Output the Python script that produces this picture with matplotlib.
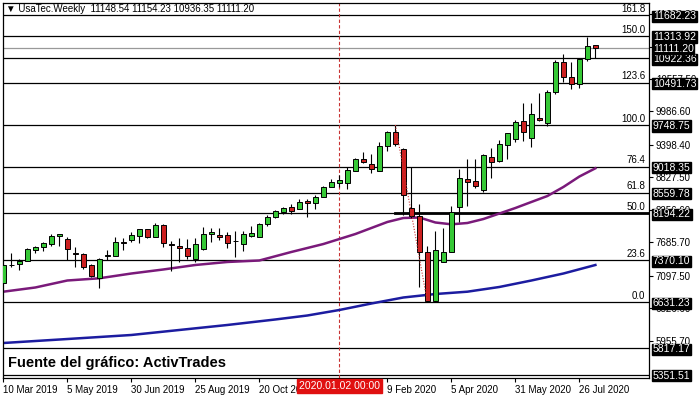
#######################################################
# imports

import numpy as np
import pandas as pd
import matplotlib
matplotlib.use('Agg')
import matplotlib.pyplot as plt
import matplotlib.transforms as mtransforms

plt.rcParams['font.family'] = ['Liberation Sans', 'DejaVu Sans']

#######################################################
# weekly candles (UsaTec)

start_week = '2019-03-10'

opens = [6975, 7285, 7302, 7360, 7554, 7607, 7660, 7790, 7737, 7501,
         7484, 7285, 7051, 7450, 7448, 7690, 7725, 7800, 7913, 7783,
         7989, 7649, 7619, 7579, 7385, 7566, 7825, 7813, 7813, 7710,
         7654, 7800, 7783, 8006, 8135, 8223, 8300, 8276, 8411, 8381,
         8487, 8663, 8733, 8723, 8944, 9150, 9062, 8944, 9379, 9626,
         9321, 8283, 8147, 7519, 6660, 7343, 7519, 8300, 8793, 8768,
         8605, 9191, 9120, 9397, 9497, 9819, 9515, 9867, 9789, 10335,
         10850, 10600, 10470, 10905, 11148.54]
highs = [7300, 7501, 7390, 7580, 7619, 7689, 7830, 7835, 7772, 7607,
         7501, 7302, 7413, 7549, 7772, 7755, 7860, 7913, 7920, 8019,
         8001, 7707, 7755, 7737, 7755, 7948, 7941, 7930, 7871, 7888,
         7883, 7971, 8019, 8165, 8253, 8311, 8358, 8446, 8446, 8517,
         8675, 8793, 8869, 9015, 9163, 9268, 9238, 9444, 9648, 9748.75,
         9339, 9004, 8358, 7619, 7889, 7930, 8323, 8974, 9150, 9145,
         9233, 9339, 9485, 9613, 9837, 10131, 10131, 10307, 10365, 10893,
         11000, 10850, 10920, 11300, 11154.23]
lows = [6960, 7255, 7197, 7350, 7501, 7536, 7624, 7624, 7373, 7244,
        7214, 7079, 6885, 7373, 7440, 7549, 7695, 7677, 7765, 7772,
        7607, 7184, 7343, 7390, 7343, 7549, 7695, 7725, 7579, 7420,
        7536, 7783, 7777, 7971, 8117, 8182, 8177, 8265, 8135, 8265,
        8476, 8652, 8652, 8622, 8939, 9075, 8899, 8939, 9296, 9379,
        8165, 8107, 6903, 6631.23, 6631.23, 7343, 7519, 8047, 8323, 8645,
        8564, 8821, 9103, 9150, 9455, 9472, 9367, 9824, 9731, 10294,
        10500, 10380, 10400, 10880, 10936.35]
closes = [7285, 7290, 7355, 7561, 7596, 7667, 7800, 7830, 7561, 7473,
          7255, 7097, 7385, 7460, 7684, 7680, 7813, 7913, 7772, 7989,
          7667, 7635, 7579, 7448, 7649, 7830, 7871, 7783, 7667, 7712,
          7830, 7848, 8001, 8135, 8235, 8293, 8240, 8393, 8371, 8476,
          8652, 8745, 8781, 8957, 9145, 9097, 8979, 9379, 9626, 9420,
          8511, 8147, 7519, 6660, 7549, 7508, 8223, 8811, 8751, 8675,
          9221, 9103, 9414, 9603, 9796, 9631, 9942, 9837, 10335, 10857,
          10600, 10470, 10905, 11145, 11111.20]

# moving averages, sampled at candle indices
ma_fast_idx = [0, 4, 8, 12, 16, 20, 24, 28, 32, 36, 40, 44, 48, 50, 52,
               54, 56, 58, 60, 62, 64, 66, 68, 70, 72, 74]
ma_fast_val = [6815, 6889, 7012, 7051, 7135, 7206, 7285, 7338, 7364, 7514,
               7654, 7830, 8042, 8112, 8121, 8033, 8001, 8024, 8094, 8191,
               8288, 8394, 8499, 8658, 8842, 8987]
ma_slow_idx = [0, 8, 16, 22, 28, 34, 38, 42, 46, 50, 54, 58, 62, 66, 70, 74]
ma_slow_val = [5912, 5982, 6053, 6141, 6229, 6326, 6396, 6493, 6607, 6713,
               6774, 6815, 6898, 7012, 7135, 7285]

# fibonacci levels and other horizontal lines
fib_names = ['161.8', '150.0', '123.6', '100.0', '76.4', '61.8', '50.0', '23.6', '0.0']
fib_prices = [11682.23, 11313.92, 10491.73, 9748.75, 9018.35, 8559.78, 8194.22, 7370.10, 6631.23]
extra_lines = [10922.36, 5817.17, 5351.51]
bid_price = 11111.20

# right hand price scale
scale_ticks = [5955.70, 6526.60, 7097.50, 7685.70, 8256.60, 8827.50,
               9398.40, 9986.60, 10557.50, 11128.40, 11699.30]

marker_idx = 42
marker_label = '2020.01.02 00:00'

#######################################################
# plot

opens = np.array(opens)
highs = np.array(highs)
lows = np.array(lows)
closes = np.array(closes)
n = len(opens)
x = np.arange(n)
weeks = pd.date_range(start_week, periods=n, freq='7D')

fig = plt.figure(figsize=(7, 4), dpi=100)
ax = fig.add_axes([3/700, 22/400, 646/700, 375/400])

# horizontal levels
for p in fib_prices + extra_lines:
    ax.axhline(p, color='black', linewidth=0.9, zorder=1)
ax.plot([49, n + 10], [fib_prices[6], fib_prices[6]], color='black', linewidth=2.0, zorder=1)
ax.axhline(bid_price, color='#999999', linewidth=0.9, zorder=1)

# moving averages
ax.plot(ma_fast_idx, ma_fast_val, color='#7a1a7a', linewidth=1.8, zorder=2)
ax.plot(ma_slow_idx, ma_slow_val, color='#1c1ca0', linewidth=1.8, zorder=2)

# date marker
ax.axvline(marker_idx, color='#c83232', linewidth=0.8, linestyle=(0, (3, 2)), zorder=1)

# zigzag leg used for the fib
ax.plot([49, 53], [highs[49], lows[53]], color='#c83232', linewidth=0.8, linestyle=(0, (1, 1.5)), zorder=5)

# candles
up = closes >= opens
fill = np.where(up, '#36c836', '#cc2020')
bottom = np.minimum(opens, closes)
height = np.maximum(np.abs(closes - opens), 1.0)
ax.vlines(x, lows, highs, color='black', linewidth=0.8, zorder=3)
ax.bar(x, height, 0.6, bottom=bottom, color=fill, edgecolor='black', linewidth=0.7, zorder=4)

ax.set_xlim(-0.04, 80.7)
ax.set_ylim(5296, 11896)

# x axis labels every 8 weeks
tick_pos = list(range(0, n, 8))
tick_lab = [str(weeks[i].day) + ' ' + weeks[i].strftime('%b %Y') for i in tick_pos]
ax.set_xticks(tick_pos)
ax.set_xticklabels(tick_lab)
plt.setp(ax.get_xticklabels(), ha='left')
ax.tick_params(axis='x', length=3, labelsize=7, pad=2, direction='out')

# right price scale
ax.yaxis.tick_right()
ax.set_yticks(scale_ticks)
ax.set_yticklabels(['%.2f' % v for v in scale_ticks])
ax.tick_params(axis='y', length=3, labelsize=7, pad=2, direction='out')

for sp in ax.spines.values():
    sp.set_linewidth(0.9)
    sp.set_color('black')

trans = mtransforms.blended_transform_factory(ax.transAxes, ax.transData)
for name, p in zip(fib_names, fib_prices):
    ax.text(0.994, p + 25, name, transform=trans, ha='right', va='bottom', fontsize=7, zorder=6)

boxes = fib_prices + extra_lines + [bid_price]
for p in boxes:
    ax.text(1.006, p, '%.2f' % p, transform=trans, ha='left', va='center_baseline', fontsize=7.5,
            color='white', clip_on=False, zorder=10,
            bbox=dict(boxstyle='square,pad=0.06', facecolor='black', edgecolor='black'))

transx = mtransforms.blended_transform_factory(ax.transData, ax.transAxes)
ax.text(marker_idx, -0.008, marker_label, transform=transx, ha='center', va='top', fontsize=7.5,
        color='white', clip_on=False, zorder=10,
        bbox=dict(boxstyle='square,pad=0.2', facecolor='#e01010', edgecolor='#e01010'))

header = '\u25bc UsaTec.Weekly  %.2f %.2f %.2f %.2f' % (opens[-1], highs[-1], lows[-1], closes[-1])
fig.text(6/700, 1 - 4/400, header, ha='left', va='top', fontsize=7)
fig.text(8/700, 1 - 363/400, 'Fuente del gráfico: ActivTrades', ha='left', va='center',
         fontsize=10.5, fontweight='bold')

plt.savefig('out.png', dpi=100)
plt.close()
